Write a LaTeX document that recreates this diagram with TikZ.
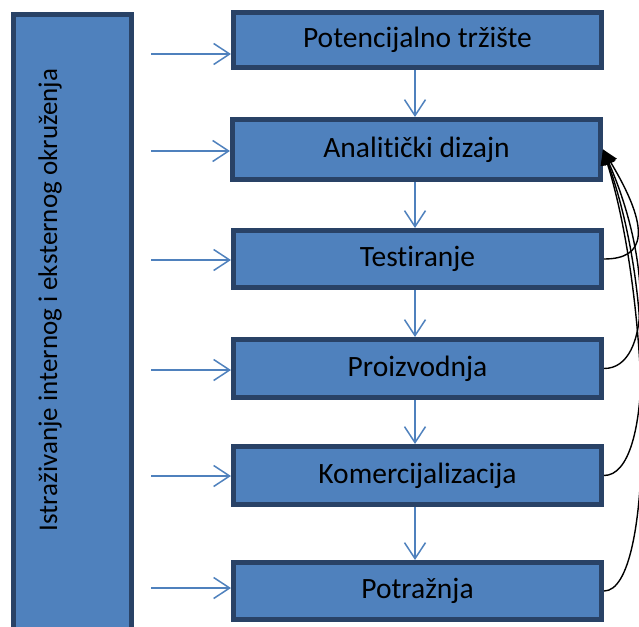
\documentclass[tikz,border=0pt]{standalone}
\usepackage{fontspec}
\setmainfont{Carlito}[Ligatures={NoCommon}]
\usetikzlibrary{arrows.meta}
\definecolor{boxfill}{HTML}{4F81BD}
\definecolor{boxline}{RGB}{41,66,102}
\definecolor{arrblue}{HTML}{4F81BD}
\tikzset{
  stage/.style={draw=boxline, fill=boxfill, line width=5pt, minimum width=368pt,
    minimum height=58pt, inner sep=0pt, font=\fontsize{29.5}{34}\selectfont, text=black},
  bluearrow/.style={draw=arrblue, line width=1.5pt, -{Straight Barb[length=16pt,width=21pt]}},
  backarrow/.style={draw=black, line width=1.4pt, -{Triangle[length=15pt,width=14pt]}}
}
\begin{document}
\begin{tikzpicture}[x=1pt,y=-1pt]
\useasboundingbox (0,0) rectangle (639,626);
\clip (0,0) rectangle (639,626);
% left box
\node[draw=boxline, fill=boxfill, line width=5pt, minimum width=118pt, minimum height=640pt, inner sep=0pt, anchor=north west] (left) at (10.5,12.5) {};
\node[rotate=90, font=\fontsize{27}{32}\selectfont, inner sep=0pt] (lefttext) at (50,300) {Istraživanje internog i eksternog okruženja};
% stage boxes
\node[stage, minimum height=55pt] (b1) at (417.5,40) {Potencijalno tržište};
\node[stage, minimum height=60pt] (b2) at (416.5,149.5) {Analitički dizajn};
\node[stage, minimum height=57pt] (b3) at (417.5,259) {Testiranje};
\node[stage] (b4) at (417.5,368.5) {Proizvodnja};
\node[stage] (b5) at (417.5,475.5) {Komercijalizacija};
\node[stage, minimum height=57pt] (b6) at (417.5,591) {Potražnja};
% input arrow starts
\coordinate (s1) at (151,54);
\coordinate (s2) at (151,151);
\coordinate (s3) at (151,260);
\coordinate (s4) at (151,370);
\coordinate (s5) at (151,476);
\coordinate (s6) at (151,588);
\draw[bluearrow] (s1) -- (s1 -| b1.west);
\draw[bluearrow] (s2) -- (s2 -| b2.west);
\draw[bluearrow] (s3) -- (s3 -| b3.west);
\draw[bluearrow] (s4) -- (s4 -| b4.west);
\draw[bluearrow] (s5) -- (s5 -| b5.west);
\draw[bluearrow] (s6) -- (s6 -| b6.west);
% vertical arrows
\draw[bluearrow] ([xshift=-2.5pt]b1.south) -- ([xshift=-2.5pt]b1.south |- b2.north);
\draw[bluearrow] ([xshift=-1.5pt]b2.south) -- ([xshift=-1.5pt]b2.south |- b3.north);
\draw[bluearrow] ([xshift=-2.5pt]b3.south) -- ([xshift=-2.5pt]b3.south |- b4.north);
\draw[bluearrow] ([xshift=-2.5pt]b4.south) -- ([xshift=-2.5pt]b4.south |- b5.north);
\draw[bluearrow] ([xshift=-2.5pt]b5.south) -- ([xshift=-2.5pt]b5.south |- b6.north);
% feedback arrows
\draw[backarrow] (b3.east) .. controls +(42,0) and +(48,80) .. (b2.east);
\draw[backarrow] (b4.east) .. controls +(48,0) and +(48,110) .. (b2.east);
\draw[backarrow] (b5.east) .. controls +(50,0) and +(49,135) .. (b2.east);
\draw[backarrow] (b6.east) .. controls +(51,0) and +(50,160) .. (b2.east);
\end{tikzpicture}
\end{document}
